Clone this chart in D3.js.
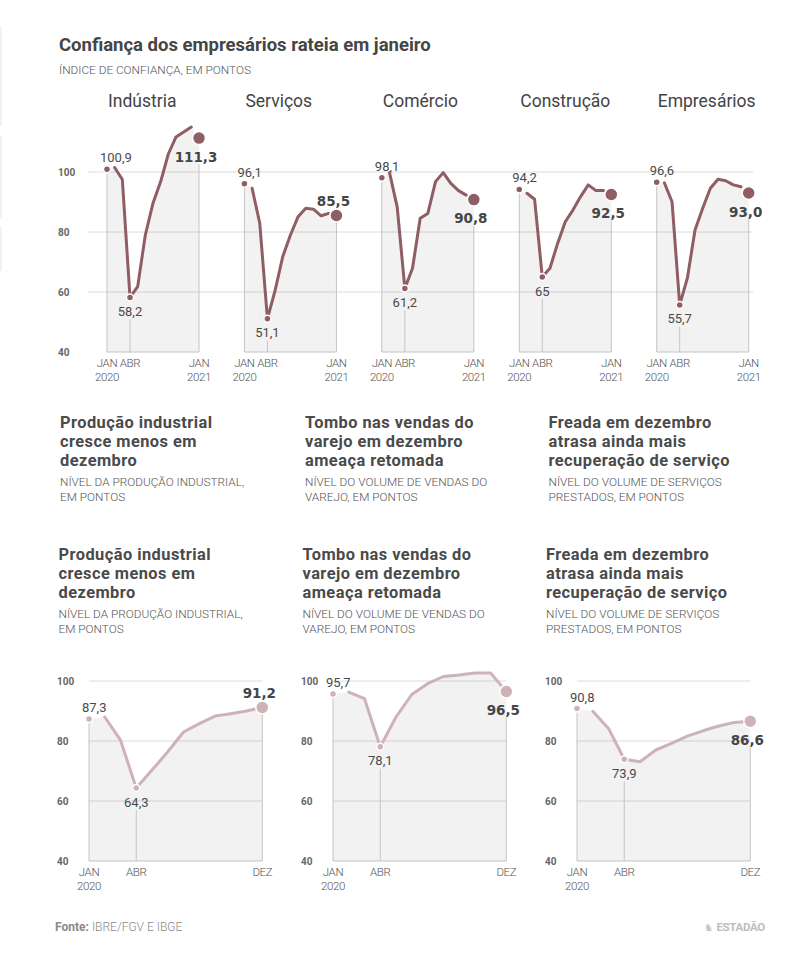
<!DOCTYPE html>
<meta charset="utf-8">
<head>
  <style>
    body {margin: 0; background-color: #ffffff;}
    text {font-family: Roboto, "Noto Sans", sans-serif;}
  </style>
  <title></title>
</head>
<body>
<script src="https://d3js.org/d3.v7.min.js"></script>
<script>

// ---- dados ----
const setores = ["Indústria", "Serviços", "Comércio", "Construção", "Empresários"];
// jan/2020 ... jan/2021 (13 meses)
const industria   = [100.9, 101.5, 97.5, 58.2, 61.8, 79.0, 89.6, 96.8, 106.0, 111.7, 113.3, 115.0, 111.3];
const servicos    = [96.1, 94.6, 82.9, 51.1, 60.5, 71.8, 79.0, 85.1, 87.9, 87.6, 85.4, 86.2, 85.5];
const comercio    = [98.1, 99.8, 88.4, 61.2, 67.9, 84.6, 86.2, 96.8, 99.8, 96.2, 93.8, 92.3, 90.8];
const construcao  = [94.2, 92.9, 90.9, 65.0, 67.9, 76.2, 83.4, 87.3, 91.8, 95.7, 93.8, 93.8, 92.5];
const empresarios = [96.6, 96.4, 90.1, 55.7, 64.6, 80.7, 87.9, 94.6, 97.6, 97.1, 95.7, 95.1, 93.0];
const confianca = [industria, servicos, comercio, construcao, empresarios];

const titulosIBGE = [
  ["Produção industrial", "cresce menos em", "dezembro"],
  ["Tombo nas vendas do", "varejo em dezembro", "ameaça retomada"],
  ["Freada em dezembro", "atrasa ainda mais", "recuperação de serviço"]
];
const subtitulosIBGE = [
  ["NÍVEL DA PRODUÇÃO INDUSTRIAL,", "EM PONTOS"],
  ["NÍVEL DO VOLUME DE VENDAS DO", "VAREJO, EM PONTOS"],
  ["NÍVEL DO VOLUME DE SERVIÇOS", "PRESTADOS, EM PONTOS"]
];
// jan/2020 ... dez/2020 (12 meses)
const producao = [87.3, 88.0, 80.3, 64.3, 70.3, 76.4, 83.0, 85.8, 88.3, 89.1, 90.0, 91.2];
const varejo   = [95.7, 96.3, 94.1, 78.1, 88.0, 95.5, 99.1, 101.5, 102.0, 102.7, 102.7, 96.5];
const servIBGE = [90.8, 89.9, 84.2, 73.9, 73.1, 77.0, 79.2, 81.6, 83.4, 85.0, 86.2, 86.6];
const ibge = [producao, varejo, servIBGE];

const ticksY = [100, 80, 60, 40];
const fonte = "IBRE/FGV E IBGE";

// ---- config ----
const W = 802, H = 976;
const corTopo = "#8f5d64", corBaixo = "#cdb3b6";
const fill = "rgba(0,0,0,0.05)", grade = "#dcdcdc", vert = "#c4c4c4";
const acimaTopo = [false, true, false, false, false];
const acimaBaixo = [true, false, false];

const loc = d3.formatLocale({decimal: ",", thousands: ".", grouping: [3], currency: ["R$", ""]});
const fmtFixo = loc.format(".1f"), fmtCurto = loc.format(".1~f");

const svg = d3.select("body").append("svg")
  .attr("width", W).attr("height", H);
svg.append("rect").attr("width", W).attr("height", H).attr("fill", "#fff");

// bordas apagadas na esquerda
[[28, 125], [136, 218], [228, 270]].forEach(function (s) {
  svg.append("rect").attr("x", -10).attr("y", s[0]).attr("width", 11).attr("height", s[1] - s[0])
    .attr("fill", "none").attr("stroke", "#e6e6e6");
});

svg.append("text").attr("x", 59).attr("y", 51)
  .style("font-size", "18.5px").style("font-weight", 700).attr("fill", "#454545")
  .text("Confiança dos empresários rateia em janeiro");
svg.append("text").attr("x", 59).attr("y", 74)
  .style("font-size", "11.8px").style("font-weight", 300).attr("fill", "#555")
  .text("ÍNDICE DE CONFIANÇA, EM PONTOS");

// ---------- painéis de confiança ----------
const yT = d3.scaleLinear().domain([40, 100]).range([352, 172]);
const painelX = d3.scaleLinear().domain([0, 4]).range([107, 656.7]);
const xT = d3.scaleLinear().domain([0, 12]).range([0, 92]);

const topo = svg.append("g");
topo.selectAll(".tick").data(ticksY).enter().append("text")
  .attr("x", 58).attr("y", d => yT(d) + 3.5)
  .style("font-size", "10px").style("font-weight", 700).attr("fill", "#666")
  .text(d => d);

function painel(g, serie, x, y, cor, fim, rotulosMes, acima, gradeX) {
  const base = y(40);
  // grade
  g.selectAll(".grade").data(ticksY.slice(0, 3)).enter().append("line")
    .attr("x1", gradeX[0]).attr("x2", gradeX[1])
    .attr("y1", d => y(d)).attr("y2", d => y(d))
    .attr("stroke", grade);
  // área
  g.append("path").datum(serie)
    .attr("d", d3.area().x((d, i) => x(i)).y0(base).y1(d => y(d)))
    .attr("fill", fill);
  g.append("line").attr("x1", x(0)).attr("x2", x(fim)).attr("y1", base).attr("y2", base)
    .attr("stroke", vert);

  const rIni = 3.5, rFim = 6.5;
  const ini = 0, abr = 3;
  // rótulos
  g.append("text").attr("x", x(ini) - 7).attr("y", y(serie[ini]) - 7)
    .style("font-size", "13px").attr("fill", "#4a4a4a").text(fmtCurto(serie[ini]));
  g.append("text").attr("x", x(abr)).attr("y", y(serie[abr]) + 18.5).attr("text-anchor", "middle")
    .style("font-size", "13px").attr("fill", "#4a4a4a").text(fmtCurto(serie[abr]));
  const yFim = acima ? y(serie[fim]) - 9.5 : y(serie[fim]) + 23.5;
  g.append("text").attr("x", x(fim) - 3).attr("y", yFim).attr("text-anchor", "middle")
    .style("font-family", "'DejaVu Sans', sans-serif").style("font-size", "13.5px").style("font-weight", 700)
    .attr("fill", "#454545").text(fmtFixo(serie[fim]));

  // verticais
  const verts = [
    [ini, y(serie[ini]) + rIni],
    [abr, y(serie[abr]) + 22],
    [fim, acima ? y(serie[fim]) + rFim : y(serie[fim]) + 26]
  ];
  g.selectAll(".vert").data(verts).enter().append("line")
    .attr("x1", d => x(d[0])).attr("x2", d => x(d[0]))
    .attr("y1", d => d[1]).attr("y2", base)
    .attr("stroke", vert);

  // linha fev..dez
  g.append("path").datum(serie.slice(1, 12))
    .attr("d", d3.line().x((d, i) => x(i + 1)).y(d => y(d)))
    .attr("fill", "none").attr("stroke", cor).attr("stroke-width", 3)
    .attr("stroke-linejoin", "round").attr("stroke-linecap", "round");

  g.selectAll(".ponto").data([[ini, rIni], [abr, rIni], [fim, rFim]]).enter().append("circle")
    .attr("cx", d => x(d[0])).attr("cy", d => y(serie[d[0]])).attr("r", d => d[1])
    .attr("fill", cor).attr("stroke", "#fff").attr("stroke-width", 1.5);

  // meses
  rotulosMes.forEach(function (m) {
    const t = g.append("text").attr("x", x(m[0])).attr("text-anchor", "middle")
      .style("font-size", "11.5px").style("font-weight", 300).style("letter-spacing", "-0.4px")
      .attr("fill", "#555");
    m[1].forEach(function (s, k) {
      t.append("tspan").attr("x", x(m[0])).attr("y", base + 15 + k * 14).text(s);
    });
  });
}

confianca.forEach(function (serie, i) {
  const x0 = painelX(i);
  const x = v => x0 + xT(v);
  const g = topo.append("g");
  g.append("text").attr("x", x0 + 1).attr("y", 107)
    .style("font-size", "17.5px").attr("fill", "#444").text(setores[i]);
  const gx = i === 0 ? [88, 753] : [0, 0];
  painel(g, serie, x, yT, corTopo, 12,
    [[0, ["JAN", "2020"]], [3, ["ABR"]], [12, ["JAN", "2021"]]],
    acimaTopo[i], gx);
});
// grade comum por baixo de tudo
topo.selectAll("g").filter((d, i) => i === 0).lower();

// ---------- blocos de título repetidos ----------
const colX = [[60, 58.5], [305, 302.5], [548.5, 546]];
[427.5, 559.5].forEach(function (by, b) {
  titulosIBGE.forEach(function (linhas, c) {
    const x = colX[c][b];
    linhas.forEach(function (s, k) {
      svg.append("text").attr("x", x).attr("y", by + k * 19.2)
        .style("font-size", "16.4px").style("font-weight", 700).style("letter-spacing", "0.45px")
        .attr("fill", "#4a4a4a").text(s);
    });
    subtitulosIBGE[c].forEach(function (s, k) {
      svg.append("text").attr("x", x).attr("y", by + 58.5 + k * 14.5)
        .style("font-size", "11.8px").style("font-weight", 300).attr("fill", "#555").text(s);
    });
  });
});

// ---------- painéis IBGE ----------
const yB = d3.scaleLinear().domain([40, 100]).range([861, 681]);
const painelXB = d3.scaleLinear().domain([0, 2]).range([89, 577]);
const xB = d3.scaleLinear().domain([0, 11]).range([0, 173.3]);

ibge.forEach(function (serie, i) {
  const x0 = painelXB(i);
  const x = v => x0 + xB(v);
  const g = svg.append("g");
  g.selectAll(".tick").data(ticksY).enter().append("text")
    .attr("x", x0 - 32).attr("y", d => yB(d) + 3.5)
    .style("font-size", "10px").style("font-weight", 700).attr("fill", "#666")
    .text(d => d);
  painel(g, serie, x, yB, corBaixo, 11,
    [[0, ["JAN", "2020"]], [3, ["ABR"]], [11, ["DEZ"]]],
    acimaBaixo[i], [x0, x0 + xB(11)]);
});

// ---------- rodapé ----------
const rod = svg.append("text").attr("x", 55).attr("y", 931)
  .style("font-size", "12px").attr("fill", "#8a8a8a");
rod.append("tspan").style("font-weight", 700).text("Fonte: ");
rod.append("tspan").style("font-weight", 300).text(fonte);

svg.append("text").attr("x", 765).attr("y", 931).attr("text-anchor", "end")
  .style("font-size", "11.5px").style("font-weight", 700).attr("fill", "#bdbdbd")
  .style("letter-spacing", "-0.3px").text("ESTADÃO");
svg.append("text").attr("x", 713).attr("y", 931).attr("text-anchor", "end")
  .style("font-family", "'DejaVu Sans', sans-serif").style("font-size", "10px").attr("fill", "#c4c4c4")
  .text("♞");

</script>
</body>
</html>
